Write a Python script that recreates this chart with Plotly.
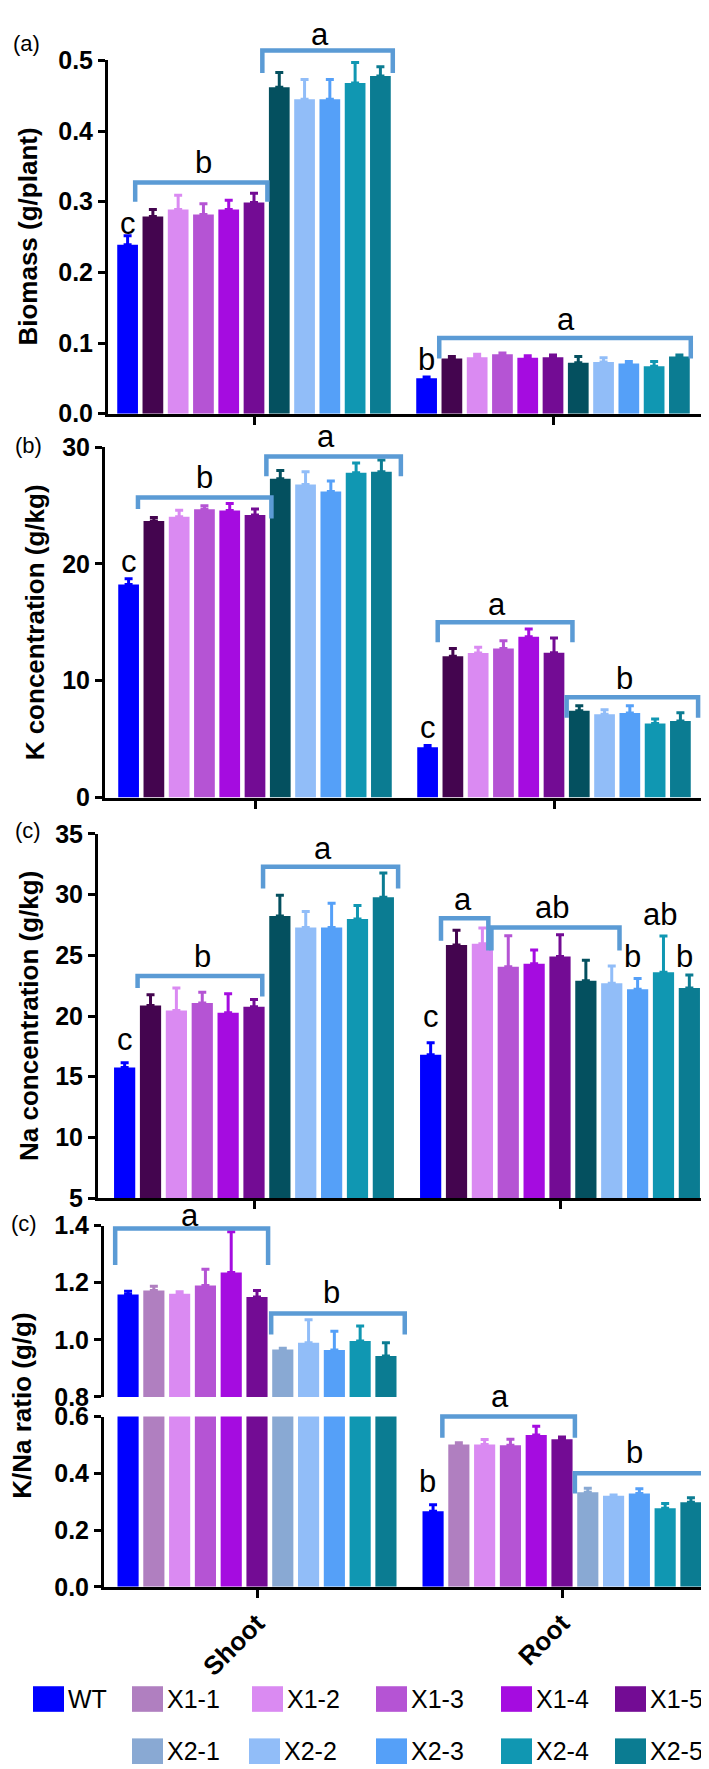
import plotly.graph_objects as go

# ---------------- data ----------------
categories = ["Shoot", "Root"]
genotypes = ["WT", "X1-1", "X1-2", "X1-3", "X1-4", "X1-5",
             "X2-1", "X2-2", "X2-3", "X2-4", "X2-5"]

colors_abc = ["#0000FF", "#44054F", "#DA8AF2", "#B554D4", "#A50CE0", "#730C94",
              "#04505F", "#91BDF8", "#55A0F8", "#1097B2", "#0B7C92"]
colors_d = ["#0000FF", "#B07FC0", "#DA8AF2", "#B554D4", "#A50CE0", "#730C94",
            "#89A9D3", "#91BDF8", "#55A0F8", "#1097B2", "#0B7C92"]

biomass_shoot = [0.239, 0.279, 0.289, 0.282, 0.289, 0.299, 0.462, 0.445, 0.445, 0.468, 0.478]
biomass_shoot_err = [0.013, 0.010, 0.020, 0.015, 0.013, 0.013, 0.021, 0.028, 0.028, 0.029, 0.013]
biomass_root = [0.050, 0.078, 0.080, 0.084, 0.079, 0.080, 0.072, 0.073, 0.071, 0.067, 0.081]
biomass_root_err = [0.002, 0.003, 0.004, 0.002, 0.003, 0.003, 0.009, 0.006, 0.003, 0.007, 0.002]

k_shoot = [18.24, 23.67, 24.04, 24.68, 24.57, 24.20, 27.30, 26.80, 26.20, 27.80, 27.90]
k_shoot_err = [0.50, 0.30, 0.56, 0.30, 0.60, 0.50, 0.70, 1.10, 0.90, 0.85, 1.00]
k_root = [4.30, 12.10, 12.38, 12.75, 13.76, 12.40, 7.43, 7.12, 7.23, 6.33, 6.56]
k_root_err = [0.15, 0.65, 0.48, 0.68, 0.68, 1.27, 0.42, 0.40, 0.62, 0.40, 0.70]

na_shoot = [15.76, 20.86, 20.46, 21.08, 20.27, 20.76, 28.24, 27.30, 27.30, 28.00, 29.78]
na_shoot_err = [0.38, 0.90, 1.84, 0.87, 1.57, 0.60, 1.70, 1.30, 2.00, 1.10, 2.00]
na_root = [16.80, 25.86, 25.95, 24.05, 24.30, 24.90, 22.90, 22.70, 22.20, 23.60, 22.30]
na_root_err = [1.00, 1.20, 1.30, 2.57, 1.14, 1.80, 1.70, 1.43, 0.90, 3.00, 1.08]

ratio_shoot = [1.159, 1.173, 1.161, 1.190, 1.236, 1.150, 0.966, 0.990, 0.964, 0.996, 0.943]
ratio_shoot_err = [0.011, 0.015, 0.007, 0.057, 0.143, 0.023, 0.004, 0.080, 0.066, 0.052, 0.047]
ratio_root = [0.266, 0.502, 0.502, 0.499, 0.535, 0.520, 0.333, 0.321, 0.329, 0.277, 0.298]
ratio_root_err = [0.023, 0.006, 0.017, 0.021, 0.031, 0.008, 0.014, 0.003, 0.017, 0.017, 0.016]

y_titles = ["Biomass (g/plant)", "K concentration (g/kg)",
            "Na concentration (g/kg)", "K/Na ratio (g/g)"]
panel_labels = ["(a)", "(b)", "(c)", "(c)"]

# ---------------- layout geometry (pixels) ----------------
W, H = 709, 1769
FONT = "Liberation Sans, Arial, Helvetica, sans-serif"
BARGAP = 0.07
BARGROUPGAP = 0.18
N = len(genotypes)
BRACKET = "#5B9BD5"
TICK_SIZE = 25

panels = {
    "a": dict(n=1, shoot=biomass_shoot, shoot_err=biomass_shoot_err, root=biomass_root,
              root_err=biomass_root_err, colors=colors_abc,
              left=100, right=693, xs=246, xr=545, bot=398, top=39,
              yr=[0, 0.5], dtick=0.1, fmt=".1f", xline=True, xlabels=False),
    "b": dict(n=2, shoot=k_shoot, shoot_err=k_shoot_err, root=k_root,
              root_err=k_root_err, colors=colors_abc,
              left=97, right=695, xs=247, xr=546, bot=788, top=432,
              yr=[0, 30], dtick=10, fmt="d", xline=True, xlabels=False),
    "c": dict(n=3, shoot=na_shoot, shoot_err=na_shoot_err, root=na_root,
              root_err=na_root_err, colors=colors_abc,
              left=90, right=700, xs=246, xr=552, bot=1195, top=825,
              yr=[5, 35], dtick=5, fmt="d", xline=True, xlabels=False),
    "dlo": dict(n=4, shoot=ratio_shoot, shoot_err=ratio_shoot_err, root=ratio_root,
                root_err=ratio_root_err, colors=colors_d,
                left=96, right=700, xs=249, xr=554, bot=1590, top=1417,
                yr=[0, 0.6], dtick=0.2, fmt=".1f", xline=True, xlabels=True),
    "dhi": dict(n=5, shoot=ratio_shoot, shoot_err=ratio_shoot_err, root=ratio_root,
                root_err=ratio_root_err, colors=colors_d,
                left=96, right=700, xs=249, xr=554, bot=1397, top=1223,
                yr=[0.8, 1.4], dtick=0.2, fmt=".1f", xline=False, xlabels=False),
}

fig = go.Figure()
layout = dict(
    width=W, height=H, margin=dict(l=0, r=0, t=0, b=0),
    paper_bgcolor="white", plot_bgcolor="white",
    barmode="group", bargap=BARGAP, bargroupgap=BARGROUPGAP,
    showlegend=False, font=dict(family=FONT, color="black"),
)

for key, p in panels.items():
    unit = p["xr"] - p["xs"]
    p["xrange"] = [-(p["xs"] - p["left"]) / unit, 1 + (p["right"] - p["xr"]) / unit]
    p["xdom"] = [p["left"] / W, p["right"] / W]
    p["ydom"] = [1 - p["bot"] / H, 1 - p["top"] / H]
    sfx = "" if p["n"] == 1 else str(p["n"])
    layout["xaxis" + sfx] = dict(
        domain=p["xdom"], range=p["xrange"], anchor="y" + sfx,
        type="category", categoryorder="array", categoryarray=categories,
        showgrid=False, zeroline=False,
        showline=p["xline"], linecolor="black", linewidth=3,
        ticks="outside" if p["xline"] else "", ticklen=8, tickwidth=3, tickcolor="black",
        showticklabels=p["xlabels"], tickangle=-45,
        tickfont=dict(family=FONT, size=26, color="black", weight="bold"),
    )
    layout["yaxis" + sfx] = dict(
        domain=p["ydom"], range=p["yr"], anchor="x" + sfx,
        showgrid=False, zeroline=False,
        showline=True, linecolor="black", linewidth=3,
        ticks="outside", ticklen=7, tickwidth=3, tickcolor="black",
        tick0=p["yr"][0], dtick=p["dtick"], tickformat=p["fmt"],
        tickfont=dict(family=FONT, size=TICK_SIZE, color="black", weight="bold"),
    )
    for i, g in enumerate(genotypes):
        col = p["colors"][i]
        fig.add_trace(go.Bar(
            x=categories, y=[p["shoot"][i], p["root"][i]], name=g,
            marker=dict(color=col, line=dict(width=0)),
            error_y=dict(type="data", symmetric=False,
                         array=[p["shoot_err"][i], p["root_err"][i]],
                         arrayminus=[0, 0], color=col, thickness=3, width=4),
            xaxis="x" + sfx, yaxis="y" + sfx, showlegend=False,
        ))


def paper_x(p, cat, idx):
    w = 1 - BARGAP
    xval = cat - w / 2 + (idx + 0.5) * w / N
    x0, x1 = p["xrange"]
    return p["xdom"][0] + (xval - x0) / (x1 - x0) * (p["xdom"][1] - p["xdom"][0])


def paper_y(p, v):
    y0, y1 = p["yr"]
    return p["ydom"][0] + (v - y0) / (y1 - y0) * (p["ydom"][1] - p["ydom"][0])


# significance brackets: (panel, category, left idx, right idx, top, left end, right end)
brackets = [
    ("a", 0, 0.3, 5.53, 0.327, 0.300, 0.300),
    ("a", 0, 5.33, 10.49, 0.514, 0.482, 0.482),
    ("a", 1, 0.5, 10.45, 0.107, 0.078, 0.078),
    ("b", 0, 0.37, 5.65, 25.7, 24.7, 23.9),
    ("b", 0, 5.45, 10.77, 29.2, 27.5, 27.5),
    ("b", 1, 0.4, 5.73, 15.0, 13.3, 13.3),
    ("b", 1, 5.5, 10.7, 8.58, 6.84, 6.84),
    ("c", 0, 0.5, 5.32, 23.3, 22.3, 21.6),
    ("c", 0, 5.35, 10.57, 32.3, 30.5, 30.5),
    ("c", 1, 0.4, 2.23, 28.05, 26.2, 25.4),
    ("c", 1, 2.35, 7.3, 27.3, 25.4, 25.4),
    ("dhi", 0, -0.5, 5.43, 1.39, 1.262, 1.262),
    ("dhi", 0, 5.55, 10.73, 1.092, 1.019, 1.019),
    ("dlo", 1, 0.36, 5.5, 0.6, 0.525, 0.525),
    ("dlo", 1, 5.5, 10.6, 0.4, 0.329, 0.329),
]

# significance letters: (panel, category, bar idx, value, text)
letters = [
    ("a", 0, 0, 0.269, "c"), ("a", 0, 3, 0.356, "b"), ("a", 0, 7.6, 0.537, "a"),
    ("a", 1, 0, 0.077, "b"), ("a", 1, 5.5, 0.133, "a"),
    ("b", 0, 0, 20.2, "c"), ("b", 0, 3, 27.4, "b"), ("b", 0, 7.8, 30.9, "a"),
    ("b", 1, 0, 6.0, "c"), ("b", 1, 2.75, 16.5, "a"), ("b", 1, 7.8, 10.2, "b"),
    ("c", 0, 0, 18.1, "c"), ("c", 0, 3, 24.9, "b"), ("c", 0, 7.65, 33.8, "a"),
    ("c", 1, 0, 20.0, "c"), ("c", 1, 1.25, 29.6, "a"), ("c", 1, 4.7, 28.9, "ab"),
    ("c", 1, 7.8, 24.9, "b"), ("c", 1, 8.85, 28.4, "ab"), ("c", 1, 9.8, 24.9, "b"),
    ("dhi", 0, 2.4, 1.434, "a"), ("dhi", 0, 7.9, 1.165, "b"),
    ("dlo", 1, -0.2, 0.37, "b"), ("dlo", 1, 2.6, 0.67, "a"), ("dlo", 1, 7.8, 0.473, "b"),
]

shapes = []
annotations = []
for key, cat, li, ri, top, el, er in brackets:
    p = panels[key]
    xl, xr_ = paper_x(p, cat, li), paper_x(p, cat, ri)
    path = "M {:.5f},{:.5f} L {:.5f},{:.5f} L {:.5f},{:.5f} L {:.5f},{:.5f}".format(
        xl, paper_y(p, el), xl, paper_y(p, top), xr_, paper_y(p, top), xr_, paper_y(p, er))
    shapes.append(dict(type="path", xref="paper", yref="paper", path=path,
                       line=dict(color=BRACKET, width=4.5), layer="above"))

for key, cat, idx, v, t in letters:
    p = panels[key]
    annotations.append(dict(xref="paper", yref="paper", x=paper_x(p, cat, idx), y=paper_y(p, v),
                            text=t, showarrow=False, xanchor="center", yanchor="middle",
                            font=dict(family=FONT, size=31, color="black")))

# y-axis titles and panel labels (pixel positions)
title_pos = [(20, 218), (27, 610), (21, 1010), (14, 1406)]
for (tx, ty), t in zip(title_pos, y_titles):
    annotations.append(dict(xref="paper", yref="paper", x=tx / W, y=1 - ty / H, text=t,
                            textangle=-90, showarrow=False, xanchor="center", yanchor="middle",
                            font=dict(family=FONT, size=26, color="black", weight="bold")))
label_pos = [(18, 22), (20, 430), (20, 822), (16, 1221)]
for (lx, ly), t in zip(label_pos, panel_labels):
    annotations.append(dict(xref="paper", yref="paper", x=lx / W, y=1 - ly / H, text=t,
                            showarrow=False, xanchor="center", yanchor="middle",
                            font=dict(family=FONT, size=22, color="black")))

# legend (two rows)
legend_rows = [(genotypes[:6], [25, 124, 244, 368, 493, 607], 1704),
               (genotypes[6:], [124, 241, 368, 493, 607], 1757)]
for names, xs, yc in legend_rows:
    for nm, x in zip(names, xs):
        col = colors_d[genotypes.index(nm)]
        shapes.append(dict(type="rect", xref="paper", yref="paper",
                           x0=x / W, x1=(x + 31) / W, y0=1 - (yc + 13) / H, y1=1 - (yc - 13) / H,
                           fillcolor=col, line=dict(width=0)))
        annotations.append(dict(xref="paper", yref="paper", x=(x + 33) / W, y=1 - yc / H,
                                text=nm, showarrow=False, xanchor="left", yanchor="middle",
                                font=dict(family=FONT, size=25, color="black")))

layout["shapes"] = shapes
layout["annotations"] = annotations
fig.update_layout(**layout)
fig.write_html("out.html")
